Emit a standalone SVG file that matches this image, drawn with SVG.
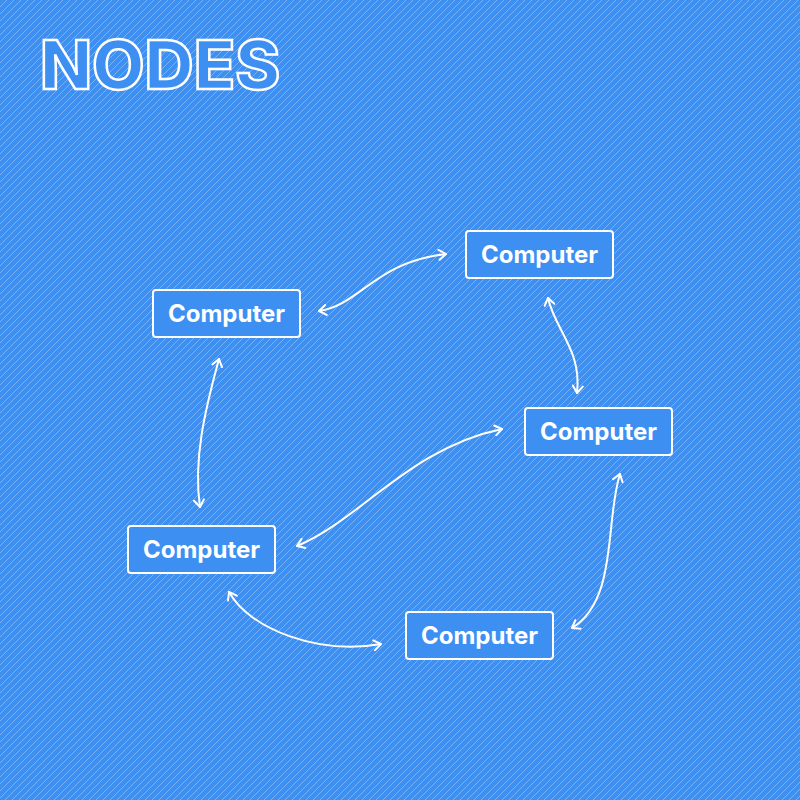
<svg xmlns="http://www.w3.org/2000/svg" width="800" height="800" viewBox="0 0 800 800">
<defs>
<pattern id="stripes" patternUnits="userSpaceOnUse" width="7" height="7">
<rect width="7" height="7" fill="#3d8ff2"/>
<path d="M-1,1 L1,-1 M0,7 L7,0 M6,8 L8,6" stroke="#78b1f6" stroke-width="1"/>
</pattern>
<marker id="arr" viewBox="0 0 12 12" refX="10" refY="6" markerWidth="12" markerHeight="12" markerUnits="userSpaceOnUse" orient="auto-start-reverse">
<path d="M3,1 L10,6 L3,11" fill="none" stroke="#ffffff" stroke-width="2" stroke-linecap="round" stroke-linejoin="round"/>
</marker>
<style>
.box{fill:#3d8ff2;stroke:#ffffff;stroke-width:2}
.lbl{fill:#ffffff;font-family:Inter,"Liberation Sans",sans-serif;font-weight:700;font-size:24px;text-anchor:middle;dominant-baseline:central}
.con{fill:none;stroke:#ffffff;stroke-width:2;stroke-linecap:round;marker-start:url(#arr);marker-end:url(#arr)}
.title{fill:#3d8ff2;stroke:#ffffff;stroke-width:2.5;font-family:Inter,"Liberation Sans",sans-serif;font-weight:800;font-size:68px}
</style>
</defs>
<rect width="800" height="800" fill="url(#stripes)"/>
<text class="title" x="40" y="89">NODES</text>
<g id="connectors">
<path class="con" d="M319,311 C360,305 375,262 446,254"/>
<path class="con" d="M548,298 C555,330 582,350 577,393"/>
<path class="con" d="M219,359 C205,410 193,460 200,507"/>
<path class="con" d="M297,546 C360,520 410,448 502,429"/>
<path class="con" d="M229,592 C250,630 320,655 381,644"/>
<path class="con" d="M620,474 C605,520 618,600 572,628"/>
</g>
<g id="node-a"><rect class="box" x="153" y="290" width="147" height="47" rx="3"/><text class="lbl" x="226.5" y="313">Computer</text></g>
<g id="node-b"><rect class="box" x="466" y="231" width="147" height="47" rx="3"/><text class="lbl" x="539.5" y="254">Computer</text></g>
<g id="node-c"><rect class="box" x="525" y="408" width="147" height="47" rx="3"/><text class="lbl" x="598.5" y="431">Computer</text></g>
<g id="node-d"><rect class="box" x="128" y="526" width="147" height="47" rx="3"/><text class="lbl" x="201.5" y="549">Computer</text></g>
<g id="node-e"><rect class="box" x="406" y="612" width="147" height="47" rx="3"/><text class="lbl" x="479.5" y="635">Computer</text></g>
</svg>
